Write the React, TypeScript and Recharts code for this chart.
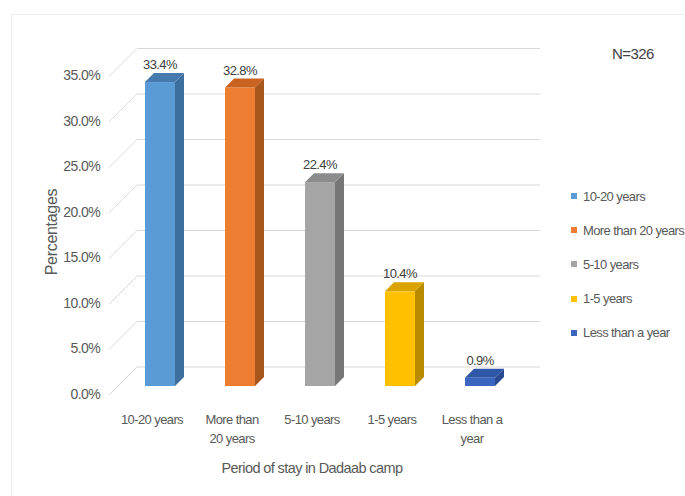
import { BarChart, Bar, XAxis, YAxis, CartesianGrid, Cell, LabelList } from "recharts";

const categories = ["10-20 years", "More than 20 years", "5-10 years", "1-5 years", "Less than a year"];
const values = [33.4, 32.8, 22.4, 10.4, 0.9];
const tickLines = [["10-20 years"], ["More than", "20 years"], ["5-10 years"], ["1-5 years"], ["Less than a", "year"]];
const yTicks = [0, 5, 10, 15, 20, 25, 30, 35];

const frontColors = ["#5B9BD5", "#ED7D31", "#A5A5A5", "#FFC000", "#3A66C2"];
const sideColors = ["#3C6E9E", "#A9561E", "#767676", "#B88B00", "#274A92"];
const topColors = ["#4679AE", "#C9631F", "#8C8C8C", "#D9A400", "#2F57A8"];

const data = categories.map((name, i) => ({ name, value: values[i] }));

const FONT = "'Liberation Sans', Arial, sans-serif";
const TEXT = "#595959";
const GRID = "#d9d9d9";
const LS = -0.6;

// depth of the fake 3d
const DX = 9;
const DY = 9;

function Bar3D(props: any) {
  const { x, y, width, height, index } = props;
  const r = x + width;
  const b = y + height;
  return (
    <g>
      <rect x={x} y={y} width={width} height={height} fill={frontColors[index]} />
      <polygon points={`${r},${y} ${r + DX},${y - DY} ${r + DX},${b - DY} ${r},${b}`} fill={sideColors[index]} />
      <polygon points={`${x},${y} ${x + DX},${y - DY} ${r + DX},${y - DY} ${r},${y}`} fill={topColors[index]} />
    </g>
  );
}

function GridLine(props: any) {
  const { x1, x2, y1 } = props;
  return (
    <g key={`g-${y1}`}>
      <line x1={x1 + 17} y1={y1 - 19} x2={x2 + 20} y2={y1 - 19} stroke={GRID} strokeWidth={1} />
      <line x1={x1 - 11} y1={y1 + 9} x2={x1 + 17} y2={y1 - 19} stroke={GRID} strokeWidth={1} />
    </g>
  );
}

function YTick({ x, y, payload }: any) {
  return (
    <text x={x - 20} y={y + 8} dy="0.35em" textAnchor="end" fill={TEXT} fontSize={14} fontFamily={FONT} letterSpacing={LS}>
      {`${payload.value.toFixed(1)}%`}
    </text>
  );
}

function XTick({ x, y, index }: any) {
  const lines = tickLines[index] || [];
  return (
    <text x={x - 8} y={y + 38} textAnchor="middle" fill={TEXT} fontSize={13} fontFamily={FONT} letterSpacing={LS}>
      {lines.map((l, i) => (
        <tspan key={i} x={x - 8} dy={i === 0 ? 0 : 19}>
          {l}
        </tspan>
      ))}
    </text>
  );
}

export default function App() {
  return (
    <div style={{ position: "absolute", left: 0, top: 0, width: 685, height: 496, background: "#fff", overflow: "hidden" }}>
      <div style={{ position: "absolute", left: 11, top: 14, width: 700, height: 500, borderTop: "1px solid #ececec", borderLeft: "1px solid #ececec" }} />
      <BarChart width={685} height={496} data={data} margin={{ top: 67.5, right: 165, bottom: 80, left: 60 }}>
        <CartesianGrid vertical={false} horizontal={(p: any) => <GridLine {...p} />} />
        <XAxis dataKey="name" height={30} axisLine={false} tickLine={false} tickSize={0} tickMargin={0} interval={0} tick={<XTick />} />
        <YAxis
          width={60}
          domain={[0, 35]}
          ticks={yTicks}
          axisLine={false}
          tickLine={false}
          tickSize={0}
          tickMargin={0}
          tick={<YTick />}
        />
        <Bar dataKey="value" barSize={30} shape={<Bar3D />} isAnimationActive={false}>
          {data.map((d, i) => (
            <Cell key={d.name} fill={frontColors[i]} />
          ))}
          <LabelList
            dataKey="value"
            position="top"
            offset={13}
            formatter={(v: any) => `${Number(v).toFixed(1)}%`}
            fill="#404040"
            fontSize={13}
            fontFamily={FONT}
            letterSpacing={LS}
          />
        </Bar>
      </BarChart>
      <div style={{ position: "absolute", left: 0, top: 0, width: 685, height: 496, pointerEvents: "none", fontFamily: FONT, color: TEXT, letterSpacing: LS }}>
        <div style={{ position: "absolute", left: 612, top: 45, fontSize: 15, color: "#404040" }}>N=326</div>
        <div style={{ position: "absolute", left: 571, top: 179, fontSize: 13 }}>
          {categories.map((c, i) => (
            <div key={c} style={{ height: 34.2, display: "flex", alignItems: "center", whiteSpace: "nowrap" }}>
              <span style={{ width: 6, height: 6, background: frontColors[i], marginRight: 6, display: "inline-block" }} />
              {c}
            </div>
          ))}
        </div>
        <div style={{ position: "absolute", left: 162, top: 460, width: 300, textAlign: "center", fontSize: 14.5 }}>
          Period of stay in Dadaab camp
        </div>
        <div
          style={{
            position: "absolute",
            left: 52,
            top: 232,
            fontSize: 16,
            letterSpacing: -0.3,
            transform: "translate(-50%, -50%) rotate(-90deg)",
            whiteSpace: "nowrap",
          }}
        >
          Percentages
        </div>
      </div>
    </div>
  );
}
